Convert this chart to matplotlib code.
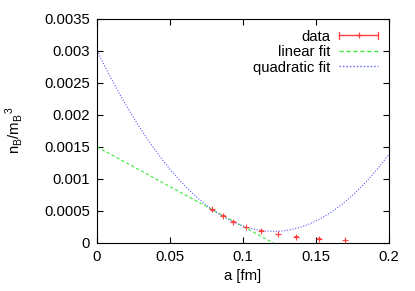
import numpy as np
import matplotlib
matplotlib.use('Agg')
import matplotlib.pyplot as plt
from matplotlib.lines import Line2D
from matplotlib.legend_handler import HandlerBase

plt.rcParams['font.family'] = ['Liberation Sans', 'DejaVu Sans']
plt.rcParams['font.size'] = 10.7

# data
a_fm = [0.079, 0.086, 0.093, 0.102, 0.112, 0.124, 0.136, 0.152, 0.170]
nB = [0.000525, 0.000426, 0.000332, 0.000249, 0.000192, 0.000140, 0.000098, 0.000067, 0.000047]
nB_err = [0.000006, 0.000005, 0.000005, 0.000005, 0.000005, 0.000004, 0.000004, 0.000004, 0.000004]

# fit coefficients (c0 + c1*a + c2*a^2)
lin_coef = [0.0015, -0.01242]
quad_coef = [0.00300, -0.0466, 0.1926]

x_ticks = [0, 0.05, 0.1, 0.15, 0.2]
x_ticklabels = ['0', '0.05', '0.1', '0.15', '0.2']
y_ticks = [0, 0.0005, 0.001, 0.0015, 0.002, 0.0025, 0.003, 0.0035]
y_ticklabels = ['0', '0.0005', '0.001', '0.0015', '0.002', '0.0025', '0.003', '0.0035']

RED = '#ff4040'
GREEN = '#40e840'
BLUE = '#5c5cff'


class ErrorbarHandler(HandlerBase):
	# gnuplot style key: horizontal bar with caps and a point in the middle
	def create_artists(self, legend, orig, xd, yd, w, h, fs, trans):
		y = h / 2 - yd
		x0, x1 = -xd, -xd + w
		cap = 0.3 * h
		arts = [
			Line2D([x0, x1], [y, y], color=RED, lw=1.0),
			Line2D([x0, x0], [y - cap, y + cap], color=RED, lw=0.9),
			Line2D([x1, x1], [y - cap, y + cap], color=RED, lw=0.9),
			Line2D([(x0 + x1) / 2], [y], color=RED, marker='+', ms=4.5, mew=0.9),
		]
		for a in arts:
			a.set_transform(trans)
		return arts


fig = plt.figure(figsize=(4.15, 2.91), dpi=100)
ax = fig.add_axes([0.2337, 0.165, 0.7036, 0.7714])

xs = np.linspace(0, 0.2, 300)
eb = ax.errorbar(a_fm, nB, yerr=nB_err, fmt='+', color=RED, ms=4.5, mew=0.8,
	elinewidth=0.8, capsize=1.5, zorder=3)
l1, = ax.plot(xs, np.polyval(lin_coef[::-1], xs), color=GREEN, lw=0.8,
	ls=(0, (3, 2)))
l2, = ax.plot(xs, np.polyval(quad_coef[::-1], xs), color=BLUE, lw=0.8,
	ls=(0, (1, 1.5)))

ax.set_xlim(0, 0.2)
ax.set_ylim(0, 0.0035)
ax.set_xticks(x_ticks)
ax.set_xticklabels(x_ticklabels)
ax.set_yticks(y_ticks)
ax.set_yticklabels(y_ticklabels)
ax.tick_params(direction='in', top=True, right=True, length=4, width=0.8, pad=5)
for s in ax.spines.values():
	s.set_linewidth(0.8)

ax.set_xlabel('a [fm]', labelpad=4)
ax.set_ylabel(r'n$_\mathregular{B}$/m$_\mathregular{B}$$^\mathregular{3}$', labelpad=14)

leg = ax.legend([eb, l1, l2], ['data', 'linear fit', 'quadratic fit'],
	loc='upper right', frameon=False, markerfirst=False,
	handlelength=2.6, handletextpad=0.6, labelspacing=0.1, borderaxespad=0.35,
	handler_map={eb: ErrorbarHandler()})
# slightly thicker key samples for the fit lines
leg.legend_handles[1].set_linewidth(1.0)
leg.legend_handles[2].set_linewidth(1.0)

fig.savefig('out.png', dpi=100)
